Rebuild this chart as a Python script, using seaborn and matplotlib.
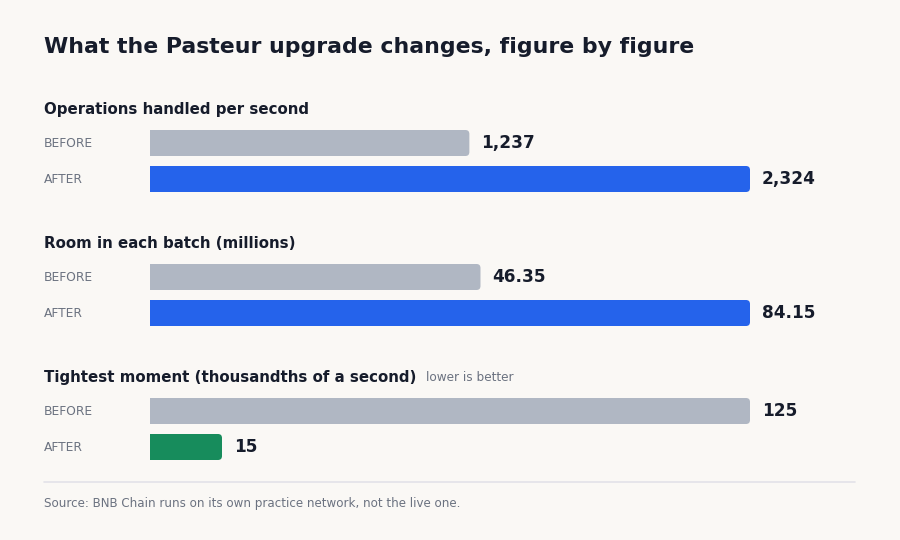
import matplotlib
matplotlib.use("Agg")
import matplotlib.pyplot as plt
import matplotlib.transforms as mtransforms
from matplotlib.patches import FancyBboxPatch
import seaborn as sns
import pandas as pd

# ---- data ----
title = "What the Pasteur upgrade changes, figure by figure"
metrics = ["Operations handled per second",
           "Room in each batch (millions)",
           "Tightest moment (thousandths of a second)"]
notes = ["", "", "lower is better"]
rows = ["BEFORE", "AFTER"]
before_values = [1237, 46.35, 125]
after_values = [2324, 84.15, 15]
value_labels_before = ["1,237", "46.35", "125"]
value_labels_after = ["2,324", "84.15", "15"]
source = "Source: BNB Chain runs on its own practice network, not the live one."

# ---- style ----
BG = "#faf8f5"
DARK = "#161c2b"
GREY_TXT = "#6b7280"
BEFORE_C = "#b0b7c3"
AFTER_C = "#2563eb"
BETTER_C = "#178c5c"

sns.set_theme(style="white")
plt.rcParams["font.family"] = ["DejaVu Sans"]

W, H = 900, 540
fig = plt.figure(figsize=(W / 100, H / 100), dpi=100, facecolor=BG)

def fx(px):
    return px / W

def fy(py):
    return 1 - py / H

fig.text(fx(44), fy(47), title, fontsize=15.8, fontweight="bold",
         color=DARK, va="center", ha="left")

x0, x1 = 150, 750
group_top = [125, 259, 393]
row_gap = 36
bar_px = 26
radius_px = 4

for i, metric in enumerate(metrics):
    top = group_top[i]
    ax = fig.add_axes([fx(x0), fy(top + 2 * row_gap), fx(x1 - x0), 2 * row_gap / H])
    ax.set_facecolor("none")
    vals = [before_values[i], after_values[i]]
    vmax = max(vals)
    after_color = BETTER_C if notes[i] else AFTER_C
    df = pd.DataFrame({"row": rows, "value": vals})
    sns.barplot(data=df, x="value", y="row", hue="row",
                palette={"BEFORE": BEFORE_C, "AFTER": after_color},
                orient="h", width=bar_px / row_gap, ax=ax, legend=False,
                saturation=1)
    ax.set_xlim(0, vmax)
    ax.set_ylim(1.5, -0.5)
    ax.axis("off")

    # rounded right corners
    r = radius_px * vmax / (x1 - x0)
    aspect = (x1 - x0) / (row_gap * vmax)
    for p in list(ax.patches):
        x, y = p.get_x(), p.get_y()
        w, h = p.get_width(), p.get_height()
        fc = p.get_facecolor()
        p.remove()
        fb = FancyBboxPatch((x - 2 * r, y), w + 2 * r, h,
                            boxstyle=f"round,pad=0,rounding_size={r}",
                            mutation_aspect=aspect, facecolor=fc,
                            edgecolor="none", clip_on=True)
        ax.add_patch(fb)

    labels = [value_labels_before[i], value_labels_after[i]]
    for j, (v, lab) in enumerate(zip(vals, labels)):
        ax.annotate(lab, xy=(v, j), xytext=(12, 0), textcoords="offset pixels",
                    fontsize=12.2, fontweight="bold", color=DARK,
                    va="center", ha="left", annotation_clip=False)

    trans = mtransforms.blended_transform_factory(fig.transFigure, ax.transData)
    for j, rname in enumerate(rows):
        ax.text(fx(44), j + 0.02, rname, transform=trans, fontsize=8.8,
                color=GREY_TXT, va="center", ha="left")

    ht = fig.text(fx(44), fy(top - 15.8), metric, fontsize=10.8, fontweight="bold",
                  color=DARK, va="center", ha="left")
    if notes[i]:
        fig.canvas.draw()
        bb = ht.get_window_extent()
        fig.text((bb.x1 + 10) / W, fy(top - 15.5), notes[i], fontsize=8.7,
                 color=GREY_TXT, va="center", ha="left")

fig.add_artist(plt.Line2D([fx(44), fx(855)], [fy(482), fy(482)],
                          color="#e2e2e8", linewidth=1.2))
fig.text(fx(44), fy(503), source, fontsize=8.6, color=GREY_TXT,
         va="center", ha="left")

fig.savefig("out.png", dpi=100, facecolor=BG)
